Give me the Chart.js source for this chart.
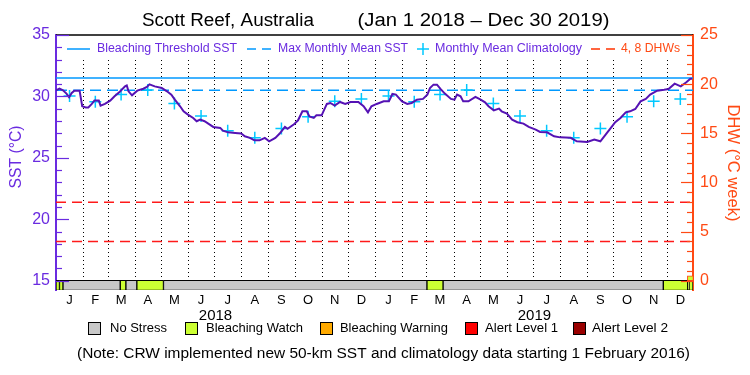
<!DOCTYPE html>
<html>
<head>
<meta charset="utf-8">
<script src="https://cdn.jsdelivr.net/npm/chart.js@4.4.1/dist/chart.umd.min.js"></script>
<style>
  html, body { margin: 0; padding: 0; background: #fff; }
  #c { display: block; }
</style>
</head>
<body>
<canvas id="c" width="750" height="375"></canvas>
<script>
// daily SST, day 0 = Jan 1 2018
const sstDays = [0,4,8,12,15,18,21,27,30,34,37,41,44,49,51,56,62,67,73,79,
  81,83,87,93,100,104,107,113,121,127,132,136,142,146,151,157,161,165,170,176,
  180,188,191,197,205,212,216,222,227,233,239,244,251,256,262,265,272,277,282,287,
  290,295,298,304,310,314,319,325,331,337,346,352,357,361,367,375,381,385,389,396,
  402,407,413,420,425,428,432,436,440,445,452,456,459,463,466,472,480,486,491,495,
  501,507,510,516,522,528,535,541,549,554,562,570,577,589,596,608,616,623,629,635,
  640,646,652,657,663,669,675,680,688,696,701,708,715,721,726,728];
const sstValues = [30.50,30.63,30.50,30.23,29.93,30.28,30.47,30.47,29.20,29.11,
  29.11,29.39,29.66,29.66,29.25,29.39,29.66,30.01,30.39,30.82,
  30.90,30.42,30.09,30.47,30.63,30.77,30.98,30.82,30.69,30.42,
  30.15,29.74,29.20,28.79,28.52,28.25,27.98,28.11,27.98,27.71,
  27.52,27.44,27.22,27.08,27.03,26.98,26.76,26.63,26.43,26.43,
  26.63,26.35,26.63,26.98,27.52,27.36,27.71,28.06,28.79,28.79,
  28.38,28.25,28.46,28.46,29.39,29.47,29.25,29.55,29.39,29.55,
  29.55,29.20,28.71,29.20,29.39,29.60,29.60,30.20,30.15,29.60,
  29.39,29.47,29.74,29.80,30.15,30.69,30.96,30.96,30.61,30.23,
  29.80,29.74,30.15,30.01,29.60,29.60,29.96,29.74,29.52,29.20,
  28.87,29.01,28.79,28.60,28.11,27.90,27.79,27.52,27.30,27.11,
  27.08,26.76,26.67,26.63,26.35,26.30,26.49,26.35,26.89,27.44,
  27.90,28.25,28.71,28.79,28.98,29.60,29.80,30.15,30.47,30.55,
  30.61,31.04,30.82,31.14,31.45,31.45];

// monthly mean climatology, plotted mid-month
const climDays = [15.5,45,74.5,105,135.5,166,196.5,227.5,258,288.5,319,349.5,
  380.5,410,439.5,470,500.5,531,561.5,592.5,623,653.5,684,714.5];
const climValues = [30.03,29.56,30.15,30.52,29.42,28.41,27.20,26.63,27.40,28.35,29.60,29.80,
  30.03,29.56,30.15,30.52,29.42,28.41,27.20,26.63,27.40,28.35,29.60,29.80];

const mmm = 30.5;
const threshold = 31.5;
const dhwLevels = [4, 8];

// stress level bar: [start day, end day, status index]
const statusNames = ['No Stress', 'Bleaching Watch', 'Bleaching Warning', 'Alert Level 1', 'Alert Level 2'];
const statusColors = ['#c8c8c8', '#ccff33', '#ffaa00', '#ff0000', '#990000'];
const statusSpans = [[0,4,1],[4,8,1],[8,73.5,0],[73.5,80,1],[80,92.5,0],[92.5,123,1],
  [123,424.5,0],[424.5,443,1],[443,695,0],[695,723,1],[723,724.5,1],[724.5,729,1]];
const dhwEndDay = 726;
const dhwEndValue = [0, 0.5];

// axes
const xMax = 729;
const monthStarts = [31,59,90,120,151,181,212,243,273,304,334,365,
  396,424,455,485,516,546,577,608,638,669,699];
const monthMids = climDays;
const monthLabels = ['J','F','M','A','M','J','J','A','S','O','N','D',
  'J','F','M','A','M','J','J','A','S','O','N','D'];
const yearMids = [182.5, 547.5];
const yearLabels = ['2018', '2019'];
const sstTicks = [15, 20, 25, 30, 35];
const dhwTicks = [0, 5, 10, 15, 20, 25];

const FONT = "'Liberation Sans', Arial, Helvetica, sans-serif";
const purple = '#6a2be0';
const sstColor = '#5512b4';
const orange = '#ff4a14';
const statusY = 14.62;   // centre of the stress bar, below the 15 °C line

function pts(xs, ys) { return xs.map((x, i) => ({ x, y: ys[i] })); }

const datasets = [];
datasets.push({ type: 'line', label: 'SST', data: pts(sstDays, sstValues),
  borderColor: sstColor, borderWidth: 2, pointRadius: 0, tension: 0, order: 1 });
datasets.push({ type: 'line', label: 'Monthly Mean Climatology', data: pts(climDays, climValues),
  showLine: false, pointStyle: 'cross', pointRadius: 6, pointBorderWidth: 1.5,
  borderColor: '#00c8ff', backgroundColor: '#00c8ff', order: 2 });
datasets.push({ type: 'line', label: 'Bleaching Threshold SST', data: pts([0, xMax], [threshold, threshold]),
  borderColor: '#0099ff', borderWidth: 1.5, pointRadius: 0, order: 3 });
datasets.push({ type: 'line', label: 'Max Monthly Mean SST', data: pts([0, xMax], [mmm, mmm]),
  borderColor: '#0099ff', borderWidth: 1.5, borderDash: [11, 6], pointRadius: 0, order: 3 });
dhwLevels.forEach(v => datasets.push({ type: 'line', label: v + ' DHW', yAxisID: 'y2',
  data: pts([0, xMax], [v, v]), borderColor: '#ff1a1a', borderWidth: 1.5, borderDash: [10, 6],
  pointRadius: 0, order: 4 }));
statusNames.forEach((name, k) => datasets.push({ type: 'bar', label: name, indexAxis: 'y',
  data: statusSpans.filter(s => s[2] === k).map(s => ({ x: [s[0], s[1]], y: statusY })),
  backgroundColor: statusColors[k], borderColor: '#000', borderWidth: 1, borderSkipped: false,
  barThickness: 10, grouped: false, order: 5 }));
datasets.push({ type: 'bar', label: 'DHW', yAxisID: 'y2',
  data: [{ x: dhwEndDay, y: dhwEndValue }], backgroundColor: '#ccff33', borderColor: orange,
  borderWidth: 1, borderSkipped: false, barThickness: 6, grouped: false, order: 0 });

function line(ctx, x1, y1, x2, y2) { ctx.beginPath(); ctx.moveTo(x1, y1); ctx.lineTo(x2, y2); ctx.stroke(); }

// text squeezed to the width it takes in the original
function drawText(ctx, text, cx, cy, len, size, color, rot) {
  ctx.save();
  ctx.font = size + 'px ' + FONT;
  ctx.fillStyle = color; ctx.textAlign = 'center'; ctx.textBaseline = 'middle';
  ctx.translate(cx, cy);
  if (rot) ctx.rotate(rot);
  const w = ctx.measureText(text).width;
  ctx.scale(len / w, 1);
  ctx.fillText(text, 0, 0);
  ctx.restore();
}

const decor = {
  id: 'decor',
  beforeDatasetsDraw(chart) {
    // dotted month boundaries, below the legend row
    const { ctx, chartArea: a, scales } = chart;
    ctx.save();
    ctx.strokeStyle = '#000'; ctx.lineWidth = 1;
    ctx.setLineDash([1, 3]);
    monthStarts.forEach(d => {
      const p = Math.round(scales.x.getPixelForValue(d)) + 0.5;
      line(ctx, p, a.top + 25, p, a.bottom);
    });
    ctx.restore();
  },
  afterDraw(chart) {
    const { ctx, chartArea: a, scales } = chart;
    const y = scales.y, y2 = scales.y2;
    ctx.save();
    ctx.strokeStyle = '#000'; ctx.lineWidth = 1.5;
    line(ctx, a.left, a.top, a.right, a.top);

    // inward tick marks
    ctx.lineWidth = 1.2;
    ctx.strokeStyle = purple;
    for (let v = 15; v <= 35; v++) {
      const p = Math.round(y.getPixelForValue(v)) + 0.5;
      line(ctx, a.left, p, a.left + (v % 5 ? 6 : 13), p);
    }
    ctx.strokeStyle = orange;
    for (let v = 0; v <= 25; v++) {
      const p = Math.round(y2.getPixelForValue(v)) + 0.5;
      line(ctx, a.right - (v % 5 ? 6 : 12), p, a.right, p);
    }

    // title
    drawText(ctx, 'Scott Reef, Australia', 228, 21, 172, 18, '#000');
    drawText(ctx, '(Jan 1 2018 \u2013 Dec 30 2019)', 483.5, 21, 252, 18, '#000');

    // axis titles
    drawText(ctx, 'SST (\u00B0C)', 16.5, 157, 63, 16, purple, -Math.PI / 2);
    drawText(ctx, 'DHW (\u00B0C week)', 732, 163, 117, 16, orange, Math.PI / 2);

    // top legend
    const ly = 49;
    ctx.lineWidth = 1.5;
    ctx.strokeStyle = '#0099ff';
    line(ctx, 67, ly, 90, ly);
    drawText(ctx, 'Bleaching Threshold SST', 167, ly, 140, 12, purple);
    ctx.setLineDash([9, 6]);
    line(ctx, 247, ly, 272, ly);
    ctx.setLineDash([]);
    drawText(ctx, 'Max Monthly Mean SST', 343, ly, 130, 12, purple);
    ctx.strokeStyle = '#00c8ff';
    line(ctx, 417, ly, 429, ly);
    line(ctx, 423, ly - 6, 423, ly + 6);
    drawText(ctx, 'Monthly Mean Climatology', 508.5, ly, 147, 12, purple);
    ctx.strokeStyle = '#ff3300';
    ctx.setLineDash([9, 6]);
    line(ctx, 591, ly, 616, ly);
    ctx.setLineDash([]);
    drawText(ctx, '4, 8 DHWs', 650.5, ly, 59, 12, orange);

    // stress level legend
    const by = 328;
    const boxX = [88, 185, 320, 465, 573];
    const txtC = [138.5, 254.5, 394, 521.5, 630];
    const txtL = [57, 97, 108, 73, 76];
    statusNames.forEach((name, k) => {
      ctx.fillStyle = statusColors[k];
      ctx.fillRect(boxX[k], by - 6, 12, 12);
      ctx.strokeStyle = '#000'; ctx.lineWidth = 1;
      ctx.strokeRect(boxX[k] + 0.5, by - 5.5, 12, 12);
      drawText(ctx, name, txtC[k], by, txtL[k], 13, '#000');
    });

    drawText(ctx, '(Note: CRW implemented new 50-km SST and climatology data starting 1 February 2016)',
      383.5, 354, 613, 14, '#000');
    ctx.restore();
  }
};

new Chart(document.getElementById('c'), {
  type: 'line',
  data: { datasets },
  options: {
    responsive: false,
    animation: false,
    events: [],
    layout: { padding: { top: 35, bottom: 52, left: 0, right: 0 } },
    plugins: { legend: { display: false }, tooltip: { enabled: false } },
    scales: {
      x: {
        type: 'linear', position: 'bottom', min: 0, max: xMax, offset: false, weight: 0,
        grid: { display: false, drawTicks: false, offset: false },
        border: { display: false },
        ticks: { display: false },
        afterFit: s => { s.height = 0; }
      },
      xm: {
        type: 'linear', position: 'bottom', min: 0, max: xMax, offset: false, weight: 1,
        grid: { display: false, drawTicks: false, offset: false },
        border: { display: false },
        ticks: { color: '#000', padding: 3, autoSkip: false, maxRotation: 0,
          font: { family: FONT, size: 13 },
          callback: v => monthLabels[monthMids.indexOf(v)] },
        afterBuildTicks: s => { s.ticks = monthMids.map(v => ({ value: v })); },
        afterFit: s => { s.height = 17; }
      },
      xy: {
        type: 'linear', position: 'bottom', min: 0, max: xMax, offset: false, weight: 2,
        grid: { display: false, drawTicks: false, offset: false },
        border: { display: false },
        ticks: { color: '#000', padding: 0, autoSkip: false, maxRotation: 0,
          font: { family: FONT, size: 15 },
          callback: v => yearLabels[yearMids.indexOf(v)] },
        afterBuildTicks: s => { s.ticks = yearMids.map(v => ({ value: v })); },
        afterFit: s => { s.height = 16; }
      },
      y: {
        type: 'linear', position: 'left', min: 14.25, max: 35, offset: false,
        grid: { display: false, drawTicks: false, offset: false },
        border: { display: true, color: purple, width: 2 },
        ticks: { color: purple, padding: 6, font: { family: FONT, size: 16 } },
        afterBuildTicks: s => { s.ticks = sstTicks.map(v => ({ value: v })); },
        afterFit: s => { s.width = 56; }
      },
      y2: {
        type: 'linear', position: 'right', min: -0.9375, max: 25, offset: false,
        grid: { display: false, drawTicks: false, offset: false },
        border: { display: true, color: orange, width: 2 },
        ticks: { color: orange, padding: 7, font: { family: FONT, size: 16 } },
        afterBuildTicks: s => { s.ticks = dhwTicks.map(v => ({ value: v })); },
        afterFit: s => { s.width = 57; }
      }
    }
  },
  plugins: [decor]
});
</script>
</body>
</html>
